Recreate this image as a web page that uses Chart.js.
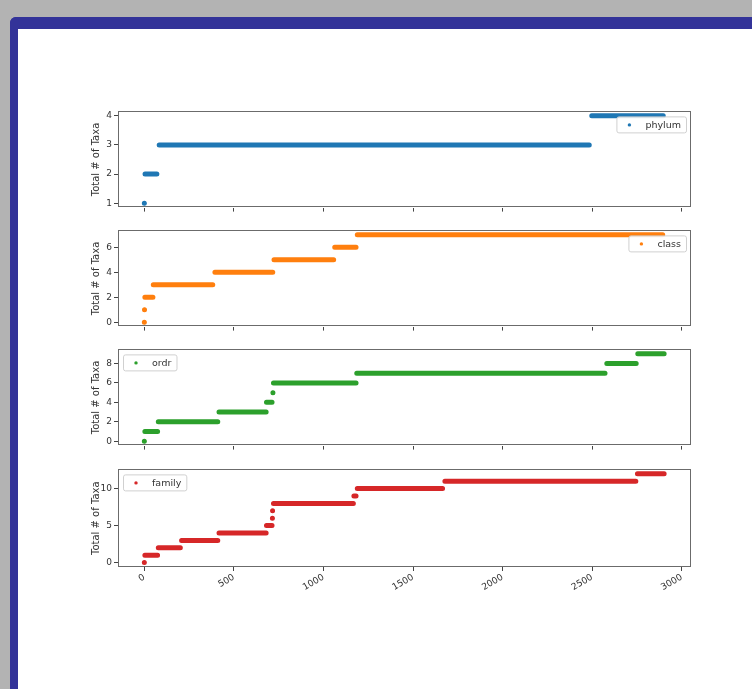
<!DOCTYPE html>
<html>
<head>
<meta charset="utf-8">
<script src="https://cdn.jsdelivr.net/npm/chart.js@4"></script>
<style>
  html, body { margin: 0; padding: 0; background: #b3b3b3; width: 752px; height: 689px; overflow: hidden; }
  #frame {
    position: absolute; left: 10px; top: 17px; width: 760px; height: 700px;
    background: #fff; box-sizing: border-box;
    border-left: 8px solid #333399; border-top: 12px solid #333399;
    border-top-left-radius: 6px;
  }
  .panel { position: absolute; left: 0; width: 752px; }
</style>
</head>
<body>
<div id="frame"></div>
<div class="panel" id="p0"><canvas id="c0"></canvas></div>
<div class="panel" id="p1"><canvas id="c1"></canvas></div>
<div class="panel" id="p2"><canvas id="c2"></canvas></div>
<div class="panel" id="p3"><canvas id="c3"></canvas></div>
<script>
// x ticks shared by all panels
const xTicks = [0, 500, 1000, 1500, 2000, 2500, 3000];

// each series is a run of steps: [start index, end index] -> value
const phylumStart = [0, 4, 83, 2498];
const phylumEnd = [0, 70, 2484, 2897];
const phylumValue = [1, 2, 3, 4];
const phylumTicks = [1, 2, 3, 4];

const classStart = [0, 1, 3, 50, 394, 724, 1063, 1189];
const classEnd = [0, 1, 48, 382, 717, 1057, 1182, 2894];
const classValue = [0, 1, 2, 3, 4, 5, 6, 7];
const classTicks = [0, 2, 4, 6];

const ordrStart = [0, 3, 78, 417, 682, 718, 721, 1186, 2582, 2755];
const ordrEnd = [0, 74, 410, 680, 713, 718, 1182, 2572, 2746, 2902];
const ordrValue = [0, 1, 2, 3, 4, 5, 6, 7, 8, 9];
const ordrTicks = [0, 2, 4, 6, 8];

const familyStart = [0, 3, 78, 208, 417, 682, 715, 716, 721, 1170, 1189, 1678, 2753];
const familyEnd = [0, 74, 201, 410, 680, 713, 715, 716, 1167, 1182, 1665, 2744, 2902];
const familyValue = [0, 1, 2, 3, 4, 5, 6, 7, 8, 9, 10, 11, 12];
const familyTicks = [0, 5, 10];

const FONT = '"DejaVu Sans", sans-serif';
const AREA_LEFT = 118, AREA_RIGHT = 691, PAD_LEFT = 86;

function stepPoints(starts, ends, values) {
  const pts = [];
  for (let i = 0; i < starts.length; i++) {
    if (starts[i] === ends[i]) {
      pts.push({ x: starts[i], y: values[i], dot: true });
    } else {
      pts.push({ x: starts[i], y: values[i] });
      pts.push({ x: ends[i], y: values[i] });
    }
    pts.push({ x: ends[i], y: null });
  }
  return pts;
}

// spines around the plot area
const boxFrame = {
  id: 'boxFrame',
  afterDatasetsDraw(chart) {
    const { ctx, chartArea: a } = chart;
    ctx.save();
    ctx.strokeStyle = '#6b6b6b';
    ctx.lineWidth = 1;
    ctx.strokeRect(Math.round(a.left) + 0.5, Math.round(a.top) + 0.5,
      Math.round(a.right - a.left) - 1, Math.round(a.bottom - a.top) - 1);
    ctx.restore();
  }
};

// matplotlib style legend drawn inside the axes
const boxLegend = {
  id: 'boxLegend',
  afterDatasetsDraw(chart, args, opts) {
    const { ctx, chartArea: a } = chart;
    ctx.save();
    ctx.font = '9.5px ' + FONT;
    const tw = ctx.measureText(opts.text).width;
    const w = 29 + tw + 5, h = 16;
    const x = opts.side === 'right' ? a.right - 5 - w : a.left + 5;
    const y = a.top + 5;
    ctx.beginPath();
    ctx.roundRect(x + 0.5, y + 0.5, w, h, 2);
    ctx.fillStyle = 'rgba(255,255,255,0.85)';
    ctx.fill();
    ctx.strokeStyle = '#d0d0d0';
    ctx.lineWidth = 1;
    ctx.stroke();
    ctx.beginPath();
    ctx.arc(x + 13, y + h / 2 + 0.5, 1.7, 0, Math.PI * 2);
    ctx.fillStyle = opts.color;
    ctx.fill();
    ctx.fillStyle = '#333';
    ctx.textBaseline = 'middle';
    ctx.textAlign = 'left';
    ctx.fillText(opts.text, x + 29, y + h / 2 + 1);
    ctx.restore();
  }
};

function makePanel(id, top, name, color, starts, ends, values, yTicks, yMin, yMax, side, showX) {
  const padTop = 6, areaH = 99, xH = showX ? 40 : 6;
  const holder = document.getElementById('p' + id);
  holder.style.top = (top - padTop) + 'px';
  holder.style.height = (padTop + areaH + xH) + 'px';

  new Chart(document.getElementById('c' + id), {
    type: 'line',
    data: {
      datasets: [{
        label: name,
        data: stepPoints(starts, ends, values),
        borderColor: color,
        backgroundColor: color,
        borderWidth: 5,
        borderCapStyle: 'round',
        spanGaps: false,
        pointRadius: ctx => (ctx.raw && ctx.raw.dot ? 1.9 : 0),
        pointBorderWidth: 0,
        pointBackgroundColor: color,
        pointHoverRadius: 0,
      }],
    },
    options: {
      responsive: true,
      maintainAspectRatio: false,
      animation: false,
      events: [],
      layout: { padding: { left: PAD_LEFT, right: 752 - AREA_RIGHT, top: padTop, bottom: 0 } },
      plugins: {
        legend: { display: false },
        tooltip: { enabled: false },
        boxLegend: { text: name, color: color, side: side },
      },
      scales: {
        x: {
          type: 'linear',
          min: -147,
          max: 3052,
          afterBuildTicks: scale => { scale.ticks = xTicks.map(v => ({ value: v })); },
          afterFit: scale => { scale.height = xH; },
          border: { display: false },
          grid: { drawOnChartArea: false, tickLength: 4, color: '#444' },
          ticks: {
            display: showX,
            autoSkip: false,
            minRotation: 30,
            maxRotation: 30,
            padding: 1,
            color: '#333',
            font: { family: FONT, size: 9 },
            callback: v => String(v),
          },
        },
        y: {
          min: yMin,
          max: yMax,
          afterBuildTicks: scale => { scale.ticks = yTicks.map(v => ({ value: v })); },
          afterFit: scale => { scale.width = AREA_LEFT - PAD_LEFT; },
          border: { display: false },
          grid: { drawOnChartArea: false, tickLength: 4, color: '#444' },
          ticks: { padding: 2, color: '#333', font: { family: FONT, size: 9 }, callback: v => String(v) },
          title: {
            display: true,
            text: 'Total # of Taxa',
            color: '#333',
            font: { family: FONT, size: 10 },
          },
        },
      },
    },
    plugins: [boxFrame, boxLegend],
  });
}

makePanel(0, 110, 'phylum', '#1f77b4', phylumStart, phylumEnd, phylumValue, phylumTicks, 0.85, 4.15, 'right', false);
makePanel(1, 229, 'class', '#ff7f0e', classStart, classEnd, classValue, classTicks, -0.35, 7.35, 'right', false);
makePanel(2, 348, 'ordr', '#2ca02c', ordrStart, ordrEnd, ordrValue, ordrTicks, -0.45, 9.45, 'left', false);
makePanel(3, 468, 'family', '#d62728', familyStart, familyEnd, familyValue, familyTicks, -0.6, 12.6, 'left', true);
</script>
</body>
</html>
